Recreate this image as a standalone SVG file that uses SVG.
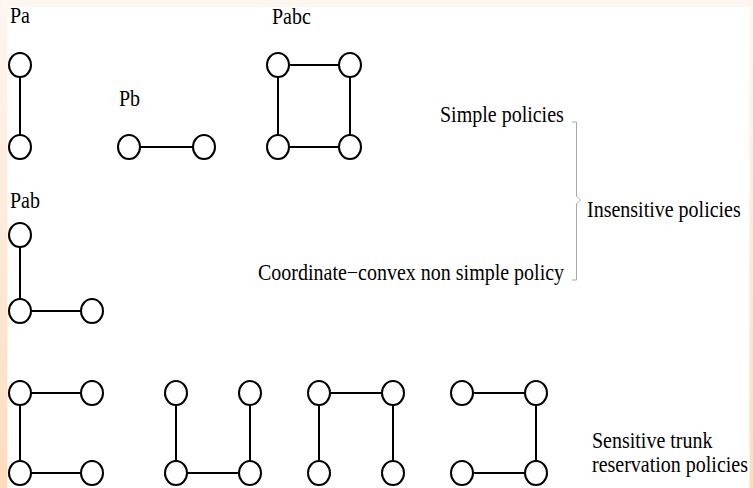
<svg xmlns="http://www.w3.org/2000/svg" width="753" height="488" viewBox="0 0 753 488">
<style>
.n{fill:none;stroke:#000;stroke-width:2}
.e{stroke:#000;stroke-width:2;fill:none}
.t{font-family:"Liberation Serif","Times New Roman",serif;font-size:20px;fill:#000}
.br{fill:none;stroke:#a8a8a8;stroke-width:1}
</style>
<defs>
<linearGradient id="bg" x1="0" y1="0" x2="0" y2="1">
<stop offset="0" stop-color="#fef6f0"/>
<stop offset="1" stop-color="#fddcbe"/>
</linearGradient>
<ellipse id="c" class="n" cx="0" cy="0" rx="11" ry="12"/>
</defs>
<rect x="0" y="0" width="753" height="488" fill="url(#bg)"/>
<rect x="7.5" y="7" width="742" height="481" fill="#fff"/>

<g id="connectors">
<line class="e" x1="20" y1="77" x2="20" y2="135"/>
<line class="e" x1="140" y1="147" x2="193" y2="147"/>
<line class="e" x1="289" y1="65" x2="339" y2="65"/>
<line class="e" x1="278" y1="77" x2="278" y2="135"/>
<line class="e" x1="350" y1="77" x2="350" y2="135"/>
<line class="e" x1="289" y1="147" x2="339" y2="147"/>
<line class="e" x1="20" y1="247" x2="20" y2="299"/>
<line class="e" x1="31" y1="311" x2="81" y2="311"/>
<line class="e" x1="31" y1="393" x2="81" y2="393"/>
<line class="e" x1="20" y1="405" x2="20" y2="461"/>
<line class="e" x1="31" y1="473" x2="81" y2="473"/>
<line class="e" x1="176" y1="405" x2="176" y2="461"/>
<line class="e" x1="250" y1="405" x2="250" y2="461"/>
<line class="e" x1="187" y1="473" x2="239" y2="473"/>
<line class="e" x1="330" y1="393" x2="382" y2="393"/>
<line class="e" x1="319" y1="405" x2="319" y2="461"/>
<line class="e" x1="393" y1="405" x2="393" y2="461"/>
<line class="e" x1="473" y1="393" x2="525" y2="393"/>
<line class="e" x1="536" y1="405" x2="536" y2="461"/>
<line class="e" x1="473" y1="473" x2="525" y2="473"/>
<path class="br" d="M572,122 H576.5 V196 L580.5,200 L576.5,204 V280 H572"/>
</g>

<g id="Pa">
<text class="t" transform="translate(10,23) scale(1,1.13)">Pa</text>
<use href="#c" x="20" y="65"/>
<use href="#c" x="20" y="147"/>
</g>
<g id="Pb">
<text class="t" transform="translate(119,106) scale(1,1.13)">Pb</text>
<use href="#c" x="129" y="147"/>
<use href="#c" x="204" y="147"/>
</g>
<g id="Pabc">
<text class="t" transform="translate(272,24) scale(1,1.13)">Pabc</text>
<use href="#c" x="278" y="65"/>
<use href="#c" x="350" y="65"/>
<use href="#c" x="278" y="147"/>
<use href="#c" x="350" y="147"/>
</g>
<g id="Pab">
<text class="t" transform="translate(10,208) scale(1,1.13)">Pab</text>
<use href="#c" x="20" y="235"/>
<use href="#c" x="20" y="311"/>
<use href="#c" x="92" y="311"/>
</g>
<g id="T1">
<use href="#c" x="20" y="393"/>
<use href="#c" x="92" y="393"/>
<use href="#c" x="20" y="473"/>
<use href="#c" x="92" y="473"/>
</g>
<g id="T2">
<use href="#c" x="176" y="393"/>
<use href="#c" x="250" y="393"/>
<use href="#c" x="176" y="473"/>
<use href="#c" x="250" y="473"/>
</g>
<g id="T3">
<use href="#c" x="319" y="393"/>
<use href="#c" x="393" y="393"/>
<use href="#c" x="319" y="473"/>
<use href="#c" x="393" y="473"/>
</g>
<g id="T4">
<use href="#c" x="462" y="393"/>
<use href="#c" x="536" y="393"/>
<use href="#c" x="462" y="473"/>
<use href="#c" x="536" y="473"/>
</g>
<g id="labels">
<text class="t" transform="translate(440,122) scale(1,1.13)">Simple policies</text>
<text class="t" transform="translate(258,280) scale(1,1.13)">Coordinate−convex non simple policy</text>
<text class="t" transform="translate(587,217) scale(1,1.13)">Insensitive policies</text>
<text class="t" transform="translate(592,448) scale(1,1.13)">Sensitive trunk</text>
<text class="t" transform="translate(592,472) scale(1,1.13)">reservation policies</text>
</g>
</svg>
